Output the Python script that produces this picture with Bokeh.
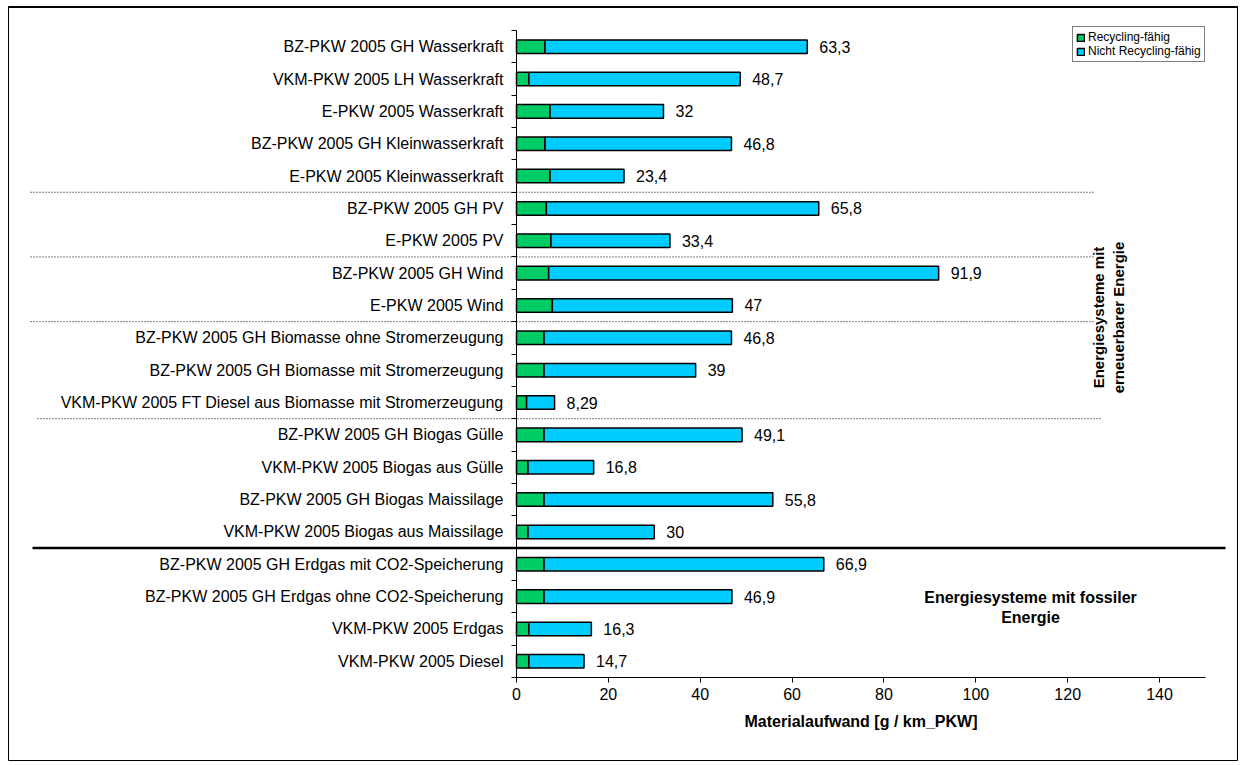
import math
from bokeh.plotting import figure
from bokeh.models import (ColumnDataSource, LinearAxis, FixedTicker, Range1d,
                          Label, Legend, LegendItem)
from bokeh.core.properties import value
from bokeh.embed import file_html
from bokeh.resources import INLINE

# ---------------- data ----------------
categories = [
    "BZ-PKW 2005 GH Wasserkraft",
    "VKM-PKW 2005 LH Wasserkraft",
    "E-PKW 2005 Wasserkraft",
    "BZ-PKW 2005 GH Kleinwasserkraft",
    "E-PKW 2005 Kleinwasserkraft",
    "BZ-PKW 2005 GH PV",
    "E-PKW 2005 PV",
    "BZ-PKW 2005 GH Wind",
    "E-PKW 2005 Wind",
    "BZ-PKW 2005 GH Biomasse ohne Stromerzeugung",
    "BZ-PKW 2005 GH Biomasse mit Stromerzeugung",
    "VKM-PKW 2005 FT Diesel aus Biomasse mit Stromerzeugung",
    "BZ-PKW 2005 GH Biogas Gülle",
    "VKM-PKW 2005 Biogas aus Gülle",
    "BZ-PKW 2005 GH Biogas Maissilage",
    "VKM-PKW 2005 Biogas aus Maissilage",
    "BZ-PKW 2005 GH Erdgas mit CO2-Speicherung",
    "BZ-PKW 2005 GH Erdgas ohne CO2-Speicherung",
    "VKM-PKW 2005 Erdgas",
    "VKM-PKW 2005 Diesel",
]
recycling = [6.2, 2.7, 7.3, 6.2, 7.3, 6.5, 7.5, 7.0, 7.8, 6.0,
             6.0, 2.2, 6.0, 2.5, 6.0, 2.5, 6.0, 6.0, 2.7, 2.7]
total = [63.3, 48.7, 32, 46.8, 23.4, 65.8, 33.4, 91.9, 47, 46.8,
         39, 8.29, 49.1, 16.8, 55.8, 30, 66.9, 46.9, 16.3, 14.7]
series_names = ["Recycling-fähig", "Nicht Recycling-fähig"]
series_colors = ["#00CC66", "#00CCFF"]
x_ticks = [0, 20, 40, 60, 80, 100, 120, 140]
x_max = 150
x_title = "Materialaufwand [g / km_PKW]"
renewable_text = "Energiesysteme mit\nerneuerbarer Energie"
fossil_text = "Energiesysteme mit fossiler\nEnergie"
dotted_after = [5, 7, 9, 12]   # dotted separator after these rows
thick_after = 16               # solid separator (renewable / fossil)

# ---------------- layout constants (page pixels) ----------------
W, H = 1238, 761
BOX_L, BOX_T, BOX_R, BOX_B = 8, 6, 1237, 760   # outer chart border
AX_X0, AX_X1 = 516, 1205          # x=0 and x=x_max
AX_TOP, AX_BOT = 30, 677          # top / bottom of category band
FONT = "Liberation Sans"

n = len(categories)
sx = (AX_X1 - AX_X0) / x_max
sy = (AX_BOT - AX_TOP) / n


def cx(px):   # page x -> data x
    return (px - AX_X0) / sx


def cy(py):   # page y -> data y
    return n + 0.5 - (py - AX_TOP) / sy


p = figure(width=W, height=H,
           x_range=Range1d(cx(BOX_L), cx(BOX_R)), y_range=Range1d(cy(BOX_B), cy(BOX_T)),
           output_backend="svg", toolbar_location=None,
           x_axis_type=None, y_axis_type=None,
           min_border_left=BOX_L, min_border_right=W - BOX_R,
           min_border_top=BOX_T, min_border_bottom=H - BOX_B)
p.outline_line_color = "black"
p.outline_line_width = 1
p.background_fill_color = "white"
p.border_fill_color = "white"

ypos = [n - i for i in range(n)]
labels = [f"{v:g}".replace(".", ",") for v in total]
src = ColumnDataSource(dict(y=ypos, zero=[0] * n, rec=recycling, tot=total, lab=labels))

r1 = p.hbar(y="y", left="zero", right="rec", height=0.42, source=src,
            fill_color=series_colors[0], line_color="black", line_width=1.5)
r2 = p.hbar(y="y", left="rec", right="tot", height=0.42, source=src,
            fill_color=series_colors[1], line_color="black", line_width=1.5)

p.text(x="tot", y="y", text="lab", source=src, x_offset=12,
       text_align="left", text_baseline="middle",
       text_font=value(FONT), text_font_size="16px", text_color="black")

# thicker top border
top_src = ColumnDataSource(dict(x0=[cx(BOX_L)], x1=[cx(BOX_R)], y=[cy(BOX_T)]))
p.segment(x0="x0", y0="y", x1="x1", y1="y", source=top_src,
          line_color="black", line_width=3)

# separators
dsrc = ColumnDataSource(dict(
    x0=[cx(30) if k != 12 else cx(37) for k in dotted_after],
    x1=[cx(1093) if k != 12 else cx(1100) for k in dotted_after],
    y=[n - k + 0.5 for k in dotted_after]))
p.segment(x0="x0", y0="y", x1="x1", y1="y", source=dsrc,
          line_color="black", line_width=1, line_dash="1 2")
tsrc = ColumnDataSource(dict(x0=[cx(32)], x1=[cx(1225)], y=[n - thick_after + 0.5]))
p.segment(x0="x0", y0="y", x1="x1", y1="y", source=tsrc,
          line_color="black", line_width=2.5)

# axes
yaxis = LinearAxis(fixed_location=0, bounds=(0.5, n + 0.5),
                   ticker=FixedTicker(ticks=ypos, minor_ticks=[k + 0.5 for k in range(n + 1)]),
                   major_label_overrides={y: c for y, c in zip(ypos, categories)},
                   major_tick_out=0, major_tick_in=0,
                   minor_tick_out=5, minor_tick_in=0,
                   minor_tick_line_color="black",
                   major_label_standoff=8,
                   major_label_text_font=FONT, major_label_text_font_size="16px",
                   major_label_text_color="black",
                   axis_line_color="black", axis_line_width=1)
p.add_layout(yaxis, "left")

xaxis = LinearAxis(fixed_location=0.5, bounds=(0, x_max),
                   ticker=FixedTicker(ticks=x_ticks),
                   major_tick_out=5, major_tick_in=0,
                   minor_tick_out=0, minor_tick_in=0,
                   major_label_standoff=5,
                   major_label_text_font=FONT, major_label_text_font_size="16px",
                   major_label_text_color="black",
                   axis_label=x_title, axis_label_standoff=10,
                   axis_label_text_font=FONT, axis_label_text_font_size="16px",
                   axis_label_text_font_style="bold", axis_label_text_color="black",
                   axis_line_color="black", axis_line_width=1)
p.add_layout(xaxis, "below")

# annotations
p.add_layout(Label(x=cx(1108), y=cy(317), text=renewable_text, angle=math.pi / 2,
                   text_align="center", text_baseline="middle",
                   text_font=FONT, text_font_size="15px", text_font_style="bold",
                   text_color="black"))
p.add_layout(Label(x=cx(1030), y=cy(607), text=fossil_text,
                   text_align="center", text_baseline="middle",
                   text_font=FONT, text_font_size="16px", text_font_style="bold",
                   text_color="black"))

# legend (box right edge ~1200, top ~28 on the page)
leg_left, leg_bottom = 1072, 62
legend = Legend(items=[LegendItem(label=series_names[0], renderers=[r1]),
                       LegendItem(label=series_names[1], renderers=[r2])],
                location=(leg_left - BOX_L, BOX_B - leg_bottom), orientation="vertical",
                label_text_font=FONT, label_text_font_size="12px",
                label_text_color="black",
                glyph_width=9, glyph_height=9, label_height=13,
                label_standoff=3, spacing=0, padding=3, margin=0,
                border_line_color="black", border_line_width=1,
                background_fill_color="white", background_fill_alpha=1)
p.add_layout(legend)

open("out.html", "w").write(file_html(p, INLINE))
